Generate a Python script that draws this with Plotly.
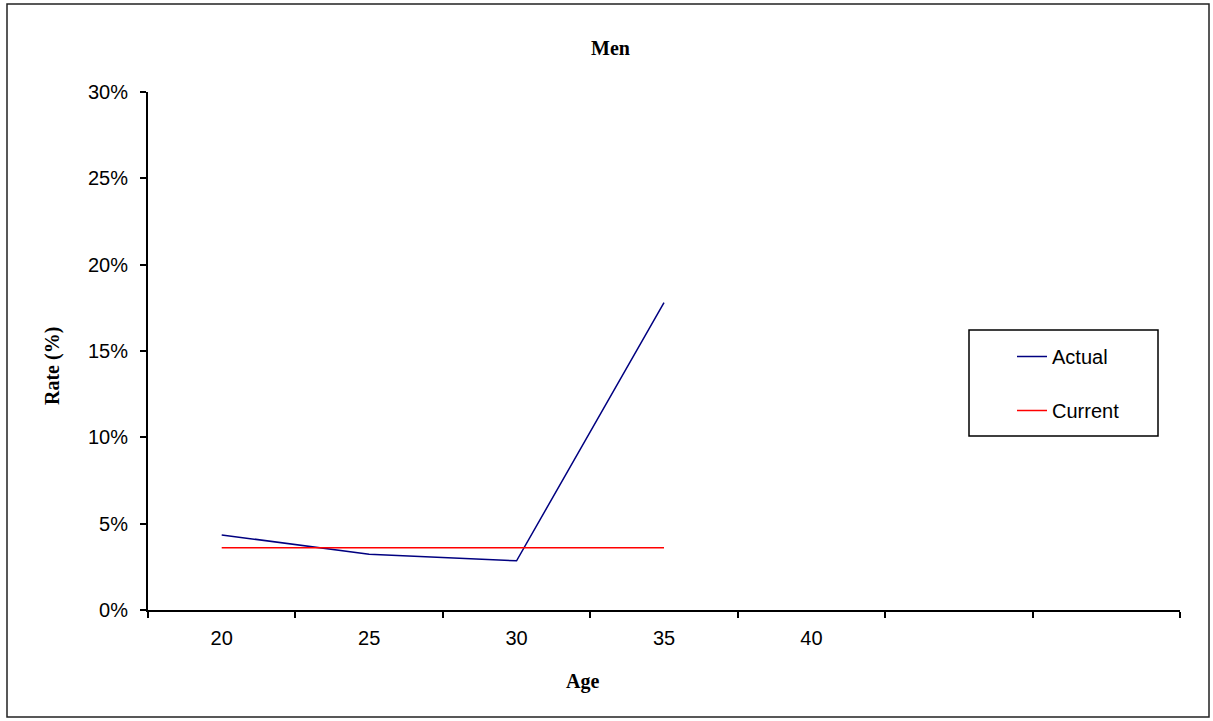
import plotly.graph_objects as go

# ---- data ----
age_labels = ["20", "25", "30", "35", "40", "", ""]
actual = [0.0435, 0.0323, 0.0285, 0.178]
current = [0.036, 0.036, 0.036, 0.036]
y_ticks = [0, 0.05, 0.10, 0.15, 0.20, 0.25, 0.30]

# plot area in pixels
W, H = 1213, 721
L, R, T, B = 148, 1180, 92, 610

def px(xp):
    return (xp - L) / (R - L)

def py(yp):
    return (B - yp) / (B - T)

fig = go.Figure()
fig.add_trace(go.Scatter(
    x=list(range(len(actual))), y=actual, mode="lines", name="Actual",
    line=dict(color="#000080", width=1.5), legendgroup="a"))
fig.add_trace(go.Scatter(
    x=list(range(len(current))), y=current, mode="lines", name="Current",
    line=dict(color="#FF0000", width=1.5), legendgroup="c"))

sans = "Liberation Sans, Arial"
serif = "Liberation Serif, Times New Roman, serif"

n = len(age_labels)
fig.update_xaxes(
    range=[-0.5, n - 0.5], tickmode="array",
    tickvals=list(range(n)), ticktext=age_labels,
    ticks="", showgrid=False, zeroline=False,
    showline=True, linecolor="black", linewidth=2,
    tickfont=dict(family=sans, size=20, color="black"),
    ticklabelstandoff=9,
    minor=dict(tick0=0.5, dtick=1, ticks="outside", ticklen=6,
               tickcolor="black", tickwidth=1.5, showgrid=False),
)
fig.update_yaxes(
    range=[0, 0.30], tickmode="array", tickvals=y_ticks, tickformat=".0%",
    ticks="outside", ticklen=6, tickcolor="black", tickwidth=1.5,
    showgrid=False, zeroline=False,
    showline=True, linecolor="black", linewidth=2,
    tickfont=dict(family=sans, size=20, color="black"),
    ticklabelstandoff=8,
)

fig.add_annotation(text="<b>Men</b>", xref="paper", yref="paper",
                   x=px(610), y=py(48), showarrow=False,
                   xanchor="center", yanchor="middle",
                   font=dict(family=serif, size=20, color="black"))
fig.add_annotation(text="<b>Age</b>", xref="paper", yref="paper",
                   x=px(582), y=py(681), showarrow=False,
                   xanchor="center", yanchor="middle",
                   font=dict(family=serif, size=20, color="black"))
fig.add_annotation(text="<b>Rate (%)</b>", xref="paper", yref="paper",
                   x=px(52), y=py(366), showarrow=False, textangle=-90,
                   xanchor="center", yanchor="middle",
                   font=dict(family=serif, size=20, color="black"))

# outer chart border
fig.add_shape(type="rect", xref="paper", yref="paper",
              x0=px(7), x1=px(1209), y0=py(717), y1=py(4),
              line=dict(color="#222", width=1.5), layer="below")
# legend box
fig.add_shape(type="rect", xref="paper", yref="paper",
              x0=px(969), x1=px(1158), y0=py(436), y1=py(330),
              line=dict(color="black", width=1.5), layer="below")

fig.update_layout(
    width=W, height=H,
    margin=dict(l=L, r=W - R, t=T, b=H - B, pad=0),
    paper_bgcolor="white", plot_bgcolor="white",
    showlegend=True,
    legend=dict(x=px(1012), y=py(337), xanchor="left", yanchor="top",
                bgcolor="rgba(0,0,0,0)", borderwidth=0,
                tracegroupgap=25,
                font=dict(family=sans, size=20, color="black")),
)

fig.write_html("out.html", config={"displayModeBar": False},
               post_script="document.body.style.margin='0';document.body.style.overflow='hidden';")
